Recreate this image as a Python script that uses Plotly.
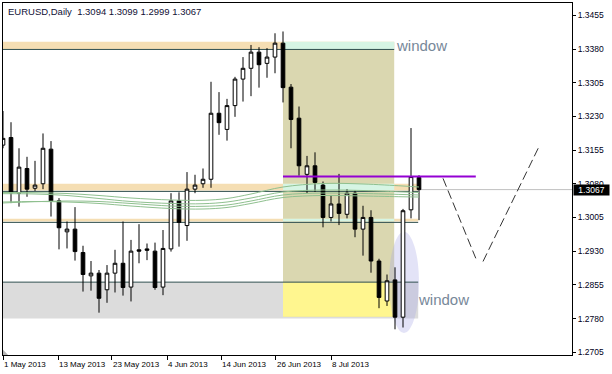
import plotly.graph_objects as go

# ---------------- data ----------------
title_text = "EURUSD,Daily  1.3094 1.3099 1.2999 1.3067"

opens = [1.3166, 1.3183, 1.3059, 1.3114, 1.3070, 1.3080, 1.3157, 1.3042, 1.2973, 1.2979,
         1.2927, 1.2875, 1.2881, 1.2844, 1.2881, 1.2903, 1.2850, 1.2933, 1.2935, 1.2930,
         1.2850, 1.2935, 1.3042, 1.2987, 1.3068, 1.3080, 1.3090, 1.3237, 1.3201, 1.3254,
         1.3313, 1.3337, 1.3373, 1.3348, 1.3362, 1.3393, 1.3295, 1.3226, 1.3101, 1.3120,
         1.3077, 1.3005, 1.3035, 1.3012, 1.3059, 1.2979, 1.3005, 1.2908, 1.2819, 1.2866,
         1.2783, 1.3022, 1.3094]
highs = [1.3242, 1.3217, 1.3159, 1.3140, 1.3131, 1.3192, 1.3175, 1.3048, 1.2996, 1.3028,
         1.2942, 1.2908, 1.2888, 1.2899, 1.2933, 1.2996, 1.2955, 1.2990, 1.2947, 1.2949,
         1.2977, 1.3059, 1.3061, 1.3106, 1.3100, 1.3114, 1.3307, 1.3284, 1.3269, 1.3318,
         1.3362, 1.3389, 1.3384, 1.3382, 1.3415, 1.3419, 1.3302, 1.3252, 1.3142, 1.3150,
         1.3085, 1.3055, 1.3102, 1.3068, 1.3065, 1.3031, 1.3021, 1.2913, 1.2878, 1.2894,
         1.3024, 1.3204, 1.3099]
lows = [1.3159, 1.3037, 1.3029, 1.3051, 1.3064, 1.3068, 1.3007, 1.2934, 1.2936, 1.2909,
        1.2840, 1.2842, 1.2793, 1.2815, 1.2838, 1.2831, 1.2818, 1.2903, 1.2910, 1.2844,
        1.2832, 1.2929, 1.2940, 1.2953, 1.3059, 1.3071, 1.3071, 1.3189, 1.3176, 1.3229,
        1.3263, 1.3275, 1.3294, 1.3316, 1.3326, 1.3261, 1.3159, 1.3098, 1.3059, 1.3062,
        1.2983, 1.2996, 1.2988, 1.3003, 1.2961, 1.2920, 1.2882, 1.2803, 1.2808, 1.2756,
        1.2760, 1.3003, 1.2999]
closes = [1.3181, 1.3060, 1.3117, 1.3068, 1.3077, 1.3159, 1.3042, 1.2982, 1.2979, 1.2929,
          1.2878, 1.2881, 1.2825, 1.2881, 1.2903, 1.2849, 1.2930, 1.2930, 1.2932, 1.2849,
          1.2936, 1.3042, 1.2994, 1.3068, 1.3077, 1.3090, 1.3237, 1.3216, 1.3254, 1.3313,
          1.3337, 1.3373, 1.3345, 1.3362, 1.3393, 1.3294, 1.3223, 1.3120, 1.3120, 1.3083,
          1.3005, 1.3035, 1.3014, 1.3059, 1.2979, 1.3005, 1.2908, 1.2827, 1.2864, 1.2783,
          1.3020, 1.3096, 1.3067]
bar_index = list(range(len(opens)))

# moving-average style lines (read at selected bars)
ma_index = [0, 4, 8, 12, 16, 21, 25, 28, 31, 35, 40, 45, 50, 52]
ma_1 = [1.30606, 1.30601, 1.30583, 1.30539, 1.30483, 1.30439, 1.30432, 1.30472, 1.30572,
        1.30728, 1.30806, 1.30795, 1.30750, 1.30728]
ma_2 = [1.30579, 1.30572, 1.30539, 1.30472, 1.30405, 1.30361, 1.30356, 1.30394, 1.30483,
        1.30617, 1.30661, 1.30650, 1.30617, 1.30606]
ma_3 = [1.30372, 1.30401, 1.30416, 1.30405, 1.30361, 1.30305, 1.30298, 1.30327, 1.30416,
        1.30550, 1.30594, 1.30583, 1.30561, 1.30550]
ma_4 = [1.30394, 1.30405, 1.30394, 1.30361, 1.30305, 1.30249, 1.30238, 1.30272, 1.30361,
        1.30494, 1.30539, 1.30528, 1.30510, 1.30505]

y_tick_vals = [1.2705, 1.2780, 1.2855, 1.2930, 1.3005, 1.3080, 1.3155, 1.3230, 1.3305, 1.3380, 1.3455]
x_tick_pos = [0, 6.9, 13.6, 20.5, 27.25, 34.1, 41]
x_tick_labels = ["1 May 2013", "13 May 2013", "23 May 2013", "4 Jun 2013",
                 "14 Jun 2013", "26 Jun 2013", "8 Jul 2013"]

last_price = 1.3067
y_range = [1.26988, 1.34824]
x_range = [0, 71.125]

# drawn objects (price levels / bar positions)
band_levels = [(1.3379, 1.3396), (1.3065, 1.3080), (1.2996, 1.3002)]
band_right = [48.9, 51.9, 51.9]
dark_levels = [1.3379, 1.3063, 1.2994, 1.2861]
dark_right = [48.9, 51.9, 51.9, 51.9]
gray_zone = (1.2780, 1.2861)
window_rect = (35.0, 48.9, 1.2784, 1.3395)
ellipse_box = (48.25, 52.0, 1.2748, 1.2973)
purple_x = [35.0, 59.1]
purple_y = [1.3096, 1.3096]
forecast1_x = [55.0, 59.1]
forecast1_y = [1.3092, 1.2914]
forecast2_x = [60.0, 66.9]
forecast2_y = [1.2907, 1.3159]
window_labels = [("window", 49.0, 1.33867), ("window", 51.75, 1.2822)]

WHEAT = "#F5DEB3"
MINT = "#D6F5E4"
OLIVE = "#DAD7B0"
YELLOW = "#FFF68F"
GRAY = "#DCDCDC"
DARK = "#2F4F4F"
FONT = "Liberation Sans"

fig = go.Figure()

# MA lines
for ma in (ma_1, ma_2, ma_3, ma_4):
    fig.add_trace(go.Scatter(x=ma_index, y=ma, mode="lines",
                             line=dict(color="#8FC08F", width=1, shape="spline", smoothing=1),
                             hoverinfo="skip", showlegend=False))

# candles
fig.add_trace(go.Candlestick(
    x=bar_index, open=opens, high=highs, low=lows, close=closes,
    increasing=dict(line=dict(color="black", width=1), fillcolor="white"),
    decreasing=dict(line=dict(color="black", width=1), fillcolor="black"),
    whiskerwidth=0, showlegend=False))

# purple level
fig.add_trace(go.Scatter(x=purple_x, y=purple_y, mode="lines",
                         line=dict(color="#9400D3", width=2), hoverinfo="skip", showlegend=False))
# forecast dashed lines
for fx, fy in ((forecast1_x, forecast1_y), (forecast2_x, forecast2_y)):
    fig.add_trace(go.Scatter(x=fx, y=fy, mode="lines",
                             line=dict(color="#333333", width=1, dash="9px,4px"),
                             hoverinfo="skip", showlegend=False))

shapes = []
# gray zone
shapes.append(dict(type="rect", xref="x", yref="y", x0=-1, x1=51.9, y0=gray_zone[0], y1=gray_zone[1],
                   fillcolor=GRAY, line=dict(width=0), layer="below"))
# olive window
wx0, wx1, wy0, wy1 = window_rect
shapes.append(dict(type="rect", xref="x", yref="y", x0=wx0, x1=wx1, y0=wy0, y1=wy1,
                   fillcolor=OLIVE, line=dict(width=0), layer="below"))
shapes.append(dict(type="rect", xref="x", yref="y", x0=wx0, x1=wx1, y0=wy0, y1=gray_zone[1],
                   fillcolor=YELLOW, line=dict(width=0), layer="below"))
# wheat bands and their overlap with the window
for (b0, b1), br in zip(band_levels, band_right):
    shapes.append(dict(type="rect", xref="x", yref="y", x0=-1, x1=br, y0=b0, y1=b1,
                       fillcolor=WHEAT, line=dict(width=0), layer="below"))
    shapes.append(dict(type="rect", xref="x", yref="y", x0=wx0, x1=wx1, y0=b0, y1=b1,
                       fillcolor=MINT, line=dict(width=0), layer="below"))
# ellipse
ex0, ex1, ey0, ey1 = ellipse_box
shapes.append(dict(type="circle", xref="x", yref="y", x0=ex0, x1=ex1, y0=ey0, y1=ey1,
                   fillcolor="rgba(170,170,230,0.33)", line=dict(width=0), layer="below"))
# bid line
shapes.append(dict(type="line", xref="paper", yref="y", x0=0, x1=1, y0=last_price, y1=last_price,
                   line=dict(color="#C0C0C0", width=1), layer="below"))
# dark level lines
for lv, rr in zip(dark_levels, dark_right):
    shapes.append(dict(type="line", xref="x", yref="y", x0=-1, x1=rr, y0=lv, y1=lv,
                       line=dict(color=DARK, width=1), layer="below"))
# little gray corner marker
shapes.append(dict(type="path", xref="paper", yref="paper",
                   path="M 0 0 L 0.009 0 L 0 0.015 Z", fillcolor="#B4B4B4",
                   line=dict(width=0), layer="above"))

annotations = []
annotations.append(dict(text=title_text, xref="paper", yref="paper", x=0, y=0.9767,
                        xanchor="left", yanchor="middle", xshift=3, showarrow=False,
                        font=dict(family=FONT, size=9.5, color="#101035")))
for txt, xx, yy in window_labels:
    annotations.append(dict(text=txt, xref="x", yref="y", x=xx, y=yy, xanchor="left",
                            yanchor="middle", showarrow=False, borderpad=0,
                            font=dict(family=FONT, size=15, color="#778899")))
for pos, lab in zip(x_tick_pos, x_tick_labels):
    annotations.append(dict(text=lab, xref="x", yref="paper", x=pos, y=0, xanchor="left",
                            yanchor="top", yshift=-3, xshift=-1, showarrow=False,
                            font=dict(family=FONT, size=8, color="#000000")))
annotations.append(dict(text="1.3067", xref="paper", yref="y", x=1, y=last_price,
                        xanchor="left", yanchor="middle", xshift=1, showarrow=False,
                        bgcolor="black", width=34, height=9, borderpad=0.5,
                        font=dict(family=FONT, size=8.5, color="white")))

fig.update_layout(
    width=612, height=374, autosize=False,
    margin=dict(l=3, r=40, t=3, b=19, pad=0),
    paper_bgcolor="white", plot_bgcolor="white",
    boxgap=0.35,
    shapes=shapes, annotations=annotations,
    xaxis=dict(range=x_range, showgrid=False, zeroline=False, showline=True, mirror=True,
               linecolor="black", linewidth=1, ticks="outside", ticklen=4, tickcolor="black",
               tickvals=x_tick_pos, ticktext=[""] * len(x_tick_pos),
               rangeslider=dict(visible=False), fixedrange=True),
    yaxis=dict(range=y_range, side="right", showgrid=False, zeroline=False, showline=True,
               mirror=True, linecolor="black", linewidth=1, ticks="outside", ticklen=3,
               tickcolor="black", tickvals=y_tick_vals, tickformat=".4f",
               tickfont=dict(family=FONT, size=8.5, color="#000020"), fixedrange=True),
    showlegend=False,
)

fig.write_html("out.html")
